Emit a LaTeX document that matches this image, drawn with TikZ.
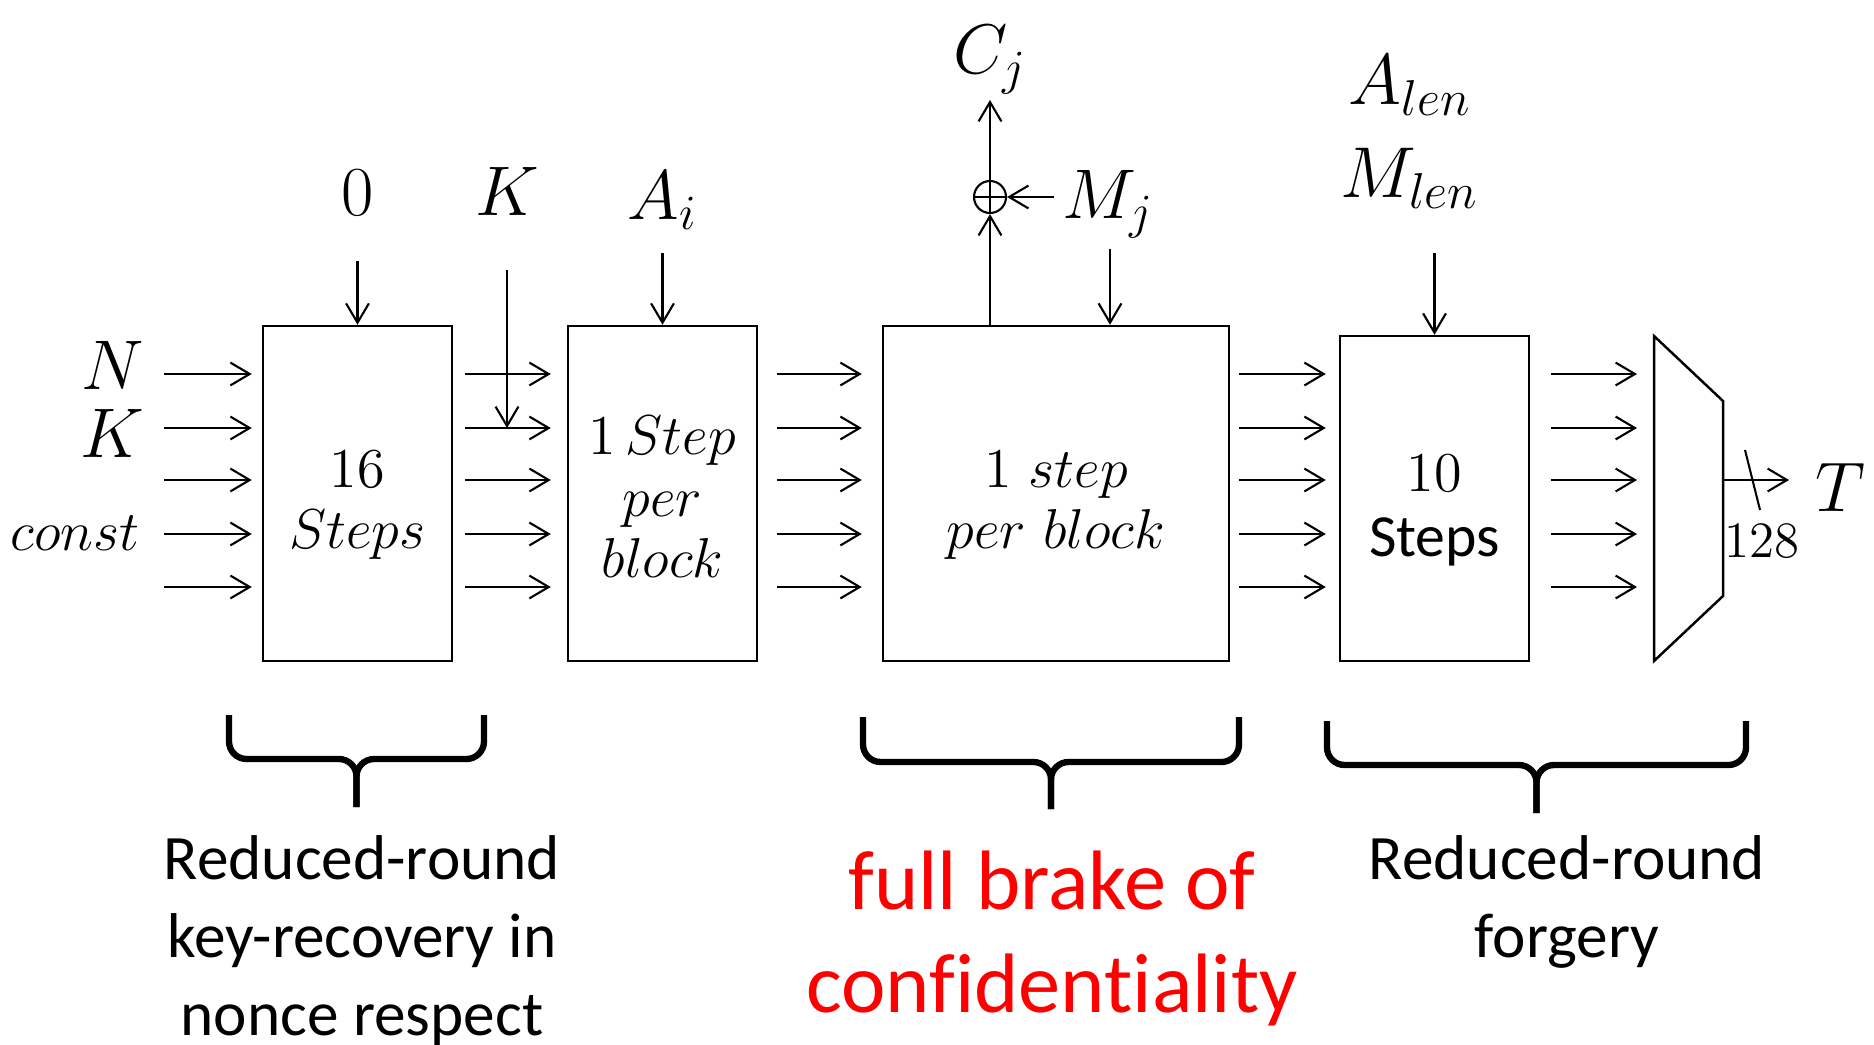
\RequirePackage{fix-cm}
\documentclass[tikz,border=0pt]{standalone}
\usepackage{fontspec}
\newfontfamily\calibri[Ligatures=NoCommon]{Carlito}
\usetikzlibrary{arrows.meta,positioning}

\tikzset{
  arr/.style={-{Straight Barb[length=5.5pt,width=6.5pt]}, line width=0.6pt},
  blok/.style={draw, line width=0.7pt, minimum width=1.89cm, minimum height=3.35cm,
    align=center, inner sep=0pt, font=\fontsize{16}{17.5}\selectfont},
  lbl/.style={inner sep=0pt, font=\fontsize{20}{24}\selectfont},
  kume/.style={line width=1.8pt, rounded corners=5pt},
  yorum/.style={font=\calibri\fontsize{18}{22.2}\selectfont, align=center},
}

\begin{document}
\begin{tikzpicture}
  \useasboundingbox (0,0) rectangle (18.74,10.44);
  % bloklar
  \node[blok] (b1) at (3.575,5.505) {\rule{0pt}{17pt}$16$\\$Steps$};
  \node[blok] (b2) at (6.625,5.505) {\rule{0pt}{13pt}$1\,Step$\\$per$\\$block$};
  \node[blok, minimum width=3.46cm] (b3) at (10.56,5.505) {\rule{0pt}{17pt}$1\ step$\\$per\ block$};
  \node[blok, minimum height=3.25cm] (b4) at (14.345,5.455) {\rule{0pt}{17pt}$10$\\[1pt]{\calibri\fontsize{17}{19}\selectfont Steps}};
  % kesme (trapez)
  \draw[line width=0.7pt] (16.54,7.08) -- (17.23,6.43) -- (17.23,4.48) -- (16.54,3.83) -- cycle;
  \coordinate (mxin) at (16.54,5.64);
  \coordinate (mxout) at (17.23,5.64);

  % giris etiketleri
  \node[lbl, anchor=base east] (lN) at (1.45,6.55) {$N$};
  \node[lbl, anchor=base east] (lK) at (1.45,5.87) {$K$};
  \node[lbl, anchor=base east, font=\fontsize{16}{19}\selectfont] (lc) at (1.40,4.94) {$const$};

  % yatay oklar
  \coordinate (giris) at (1.64,0);
  \foreach \y in {6.70,6.16,5.64,5.10,4.57} {
    \draw[arr, shorten >=1mm] (giris |- 0,\y) -- (b1.west |- 0,\y);
    \draw[arr, shorten <=1.2mm, shorten >=1.6mm] (b1.east |- 0,\y) -- (b2.west |- 0,\y);
    \draw[arr, shorten <=1.9mm, shorten >=2mm] (b2.east |- 0,\y) -- (b3.west |- 0,\y);
    \draw[arr, shorten <=0.9mm, shorten >=1.3mm] (b3.east |- 0,\y) -- (b4.west |- 0,\y);
    \draw[arr, shorten <=2.1mm, shorten >=1.7mm] (b4.east |- 0,\y) -- (mxin |- 0,\y);
  }

  % ust girisler
  \node[lbl, anchor=base] (l0) at (3.575,8.29) {$0$};
  \coordinate (sifir) at (3.575,7.83);
  \draw[arr] (sifir) -- (b1.north);
  \node[lbl, anchor=base] (lK2) at (5.07,8.29) {$K$};
  \coordinate (kust) at (5.07,7.74);
  \coordinate (kalt) at (5.07,6.16);
  \draw[arr] (kust) -- (kalt);
  \node[lbl, anchor=base, font=\fontsize{20}{24}\selectfont] (lA) at (6.625,8.25) {$A_i$};
  \coordinate (ai) at (6.625,7.91);
  \draw[arr] (ai) -- (b2.north);

  % sifreleme kismi
  \node[circle, draw, inner sep=0pt, minimum size=0.32cm, line width=0.6pt] (xr) at (9.90,8.47) {};
  \draw[line width=0.6pt] (xr.north) -- (xr.south) (xr.west) -- (xr.east);
  \draw[arr] (b3.north -| xr) -- (xr.south);
  \node[lbl, anchor=base] (lC) at (9.90,9.70) {$C_j$};
  \coordinate (cust) at (9.90,9.44);
  \draw[arr] (xr.north) -- (cust);
  \node[lbl, anchor=base] (lM) at (11.08,8.26) {$M_j$};
  \coordinate (mgiris) at (10.54,8.47);
  \draw[arr] (mgiris) -- (xr.east);
  \coordinate (mj) at (11.10,7.95);
  \draw[arr] (mj) -- (mj |- b3.north);

  % son kisim
  \node[lbl, align=center, anchor=south, font=\fontsize{20.5}{26.5}\selectfont] (lAM) at (14.10,8.35) {$A_{len}$\\$M_{len}$};
  \coordinate (al) at (14.345,7.91);
  \draw[arr] (al) -- (b4.north);
  \node[lbl, anchor=base] (lT) at (18.40,5.33) {$T$};
  \coordinate (cik) at (17.89,5.64);
  \draw[arr] (mxout) -- (cik);
  \draw[line width=0.6pt] (17.45,5.94) -- (17.60,5.34);
  \node[inner sep=0pt, font=\fontsize{14.5}{16}\selectfont] (l128) at (17.62,5.03) {$128$};

  % kume parantezleri
  \foreach \sol/\sag/\ust/\yat/\uc in {2.29/4.84/3.29/2.85/2.37, 8.63/12.39/3.27/2.82/2.35, 13.27/17.46/3.23/2.79/2.31} {
    \draw[kume] (\sol,\ust) -- (\sol,\yat) -- ({(\sol+\sag)/2},\yat) -- ({(\sol+\sag)/2},\uc);
    \draw[kume] (\sag,\ust) -- (\sag,\yat) -- ({(\sol+\sag)/2},\yat) -- ({(\sol+\sag)/2},\uc);
  }

  % aciklamalar
  \node[yorum] (y1) at (3.62,1.03) {Reduced-round\\key-recovery in\\nonce respect};
  \node[yorum, text=red, font=\calibri\fontsize{24}{29.3}\selectfont] (y2) at (10.52,1.055) {full brake of\\confidentiality};
  \node[yorum] (y3) at (15.67,1.42) {Reduced-round\\forgery};
\end{tikzpicture}
\end{document}
